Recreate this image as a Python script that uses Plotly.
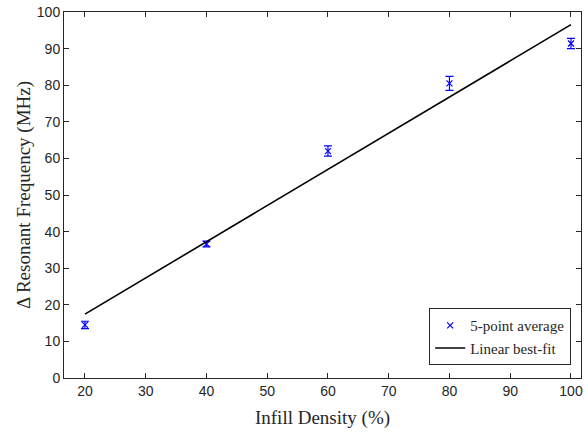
import numpy as np
import plotly.graph_objects as go

# Measured resonant-frequency shift vs. infill density
infill = [20, 40, 60, 80, 100]
delta_f = [14.5, 36.6, 62.0, 80.5, 91.4]
err = [1.0, 0.8, 1.4, 1.9, 1.4]

x_ticks = [20, 30, 40, 50, 60, 70, 80, 90, 100]
y_ticks = [0, 10, 20, 30, 40, 50, 60, 70, 80, 90, 100]

# Least-squares linear fit through the averaged points
slope, intercept = np.polyfit(infill, delta_f, 1)
fit_x = np.array([infill[0], infill[-1]])
fit_y = slope * fit_x + intercept

serif = "Liberation Serif, DejaVu Serif, serif"
sans = "Liberation Sans, Arial, sans-serif"
axis_col = "#262626"

fig = go.Figure()
fig.add_trace(go.Scatter(
    x=infill, y=delta_f, mode="markers", name="5-point average",
    marker=dict(symbol="x-thin", size=6, color="blue",
                line=dict(color="blue", width=1.2)),
    error_y=dict(type="data", array=err, visible=True, color="blue",
                 thickness=1.2, width=4),
))
fig.add_trace(go.Scatter(
    x=fit_x, y=fit_y, mode="lines", name="Linear best-fit",
    line=dict(color="black", width=1.6),
))

axis_common = dict(
    showline=True, linecolor=axis_col, linewidth=1, mirror="allticks",
    ticks="inside", ticklen=5, tickcolor=axis_col, tickwidth=1,
    showgrid=False, zeroline=False,
    tickfont=dict(family=sans, size=14, color=axis_col),
)

fig.update_layout(
    width=587, height=436,
    margin=dict(l=64, r=4, t=11, b=58),
    paper_bgcolor="white", plot_bgcolor="white",
    xaxis=dict(range=[16.55, 101.65], tickvals=x_ticks,
               title=dict(text="Infill Density (%)", standoff=12,
                          font=dict(family=serif, size=19, color=axis_col)),
               **axis_common),
    yaxis=dict(range=[0, 100], tickvals=y_ticks,
               title=dict(text="Δ Resonant Frequency (MHz)", standoff=1,
                          font=dict(family=serif, size=19, color=axis_col)),
               **axis_common),
    legend=dict(x=0.981, y=0.035, xanchor="right", yanchor="bottom",
                bgcolor="white", bordercolor=axis_col, borderwidth=1,
                font=dict(family=serif, size=15, color=axis_col),
                tracegroupgap=0, itemwidth=30),
    showlegend=True,
)

fig.write_html("out.html")
